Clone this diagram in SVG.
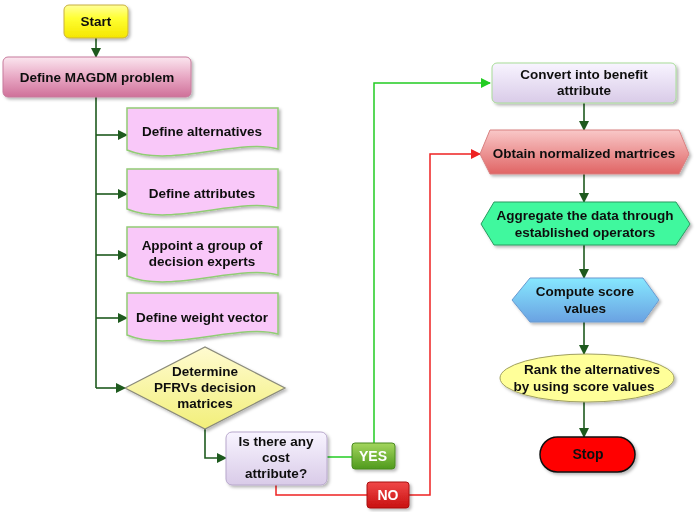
<svg xmlns="http://www.w3.org/2000/svg" width="696" height="512" viewBox="0 0 696 512">
<defs>
<filter id="sh" x="-10%" y="-10%" width="130%" height="140%"><feDropShadow dx="2" dy="2" stdDeviation="1.5" flood-color="#000" flood-opacity="0.28"/></filter>
<linearGradient id="gStart" x1="0" y1="0" x2="0" y2="1"><stop offset="0" stop-color="#ffff99"/><stop offset="0.4" stop-color="#ffff33"/><stop offset="1" stop-color="#f5e600"/></linearGradient>
<linearGradient id="gPink" x1="0" y1="0" x2="0" y2="1"><stop offset="0" stop-color="#fbe6ef"/><stop offset="0.5" stop-color="#e8a8c4"/><stop offset="1" stop-color="#cf7099"/></linearGradient>
<linearGradient id="gDia" x1="0" y1="0" x2="0" y2="1"><stop offset="0" stop-color="#fffbd0"/><stop offset="1" stop-color="#f2ef7a"/></linearGradient>
<linearGradient id="gLav" x1="0" y1="0" x2="0" y2="1"><stop offset="0" stop-color="#f8f4ff"/><stop offset="1" stop-color="#d9cbe8"/></linearGradient>
<linearGradient id="gYes" x1="0" y1="0" x2="0" y2="1"><stop offset="0" stop-color="#a4d65e"/><stop offset="1" stop-color="#4f9a1c"/></linearGradient>
<linearGradient id="gNo" x1="0" y1="0" x2="0" y2="1"><stop offset="0" stop-color="#f04848"/><stop offset="1" stop-color="#c81010"/></linearGradient>
<linearGradient id="gRed" x1="0" y1="0" x2="0" y2="1"><stop offset="0" stop-color="#f9c8c8"/><stop offset="1" stop-color="#e06464"/></linearGradient>
<linearGradient id="gBlue" x1="0" y1="0" x2="0" y2="1"><stop offset="0" stop-color="#86e8ff"/><stop offset="1" stop-color="#6aa2e2"/></linearGradient>
<marker id="ad" viewBox="0 0 10 10" refX="9" refY="5" markerWidth="10" markerHeight="10" markerUnits="userSpaceOnUse" orient="auto"><path d="M0,0 L10,5 L0,10 Z" fill="#1e5a1e"/></marker>
<marker id="ag" viewBox="0 0 10 10" refX="9" refY="5" markerWidth="10" markerHeight="10" markerUnits="userSpaceOnUse" orient="auto"><path d="M0,0 L10,5 L0,10 Z" fill="#22cc22"/></marker>
<marker id="ar" viewBox="0 0 10 10" refX="9" refY="5" markerWidth="10" markerHeight="10" markerUnits="userSpaceOnUse" orient="auto"><path d="M0,0 L10,5 L0,10 Z" fill="#ee2222"/></marker>
</defs>
<style>
text{font-family:"Liberation Sans",Arial,sans-serif;font-weight:bold;font-size:13.5px;fill:#111;text-anchor:middle}
.w{fill:#fff;font-size:14px}
.doc{fill:#f9c8f9;stroke:#92cc76;stroke-width:1.5}
.c{fill:none;stroke:#1e5a1e;stroke-width:1.6;marker-end:url(#ad)}
.cl{fill:none;stroke:#1e5a1e;stroke-width:1.6}
.cg{fill:none;stroke:#22cc22;stroke-width:1.5}
.cr{fill:none;stroke:#ee2222;stroke-width:1.5}
.n{filter:url(#sh)}
</style>
<g id="connectors">
<path class="c" d="M96,38 V57"/>
<path class="cl" d="M96,97 V388"/>
<path class="c" d="M96,135 H127"/>
<path class="c" d="M96,194 H127"/>
<path class="c" d="M96,255 H127"/>
<path class="c" d="M96,318 H127"/>
<path class="c" d="M96,388 H125"/>
<path class="c" d="M205,429 V458 H226"/>
<path class="cg" d="M327,457 H352"/>
<path class="cg" d="M374,443 V83 H490" style="marker-end:url(#ag)"/>
<path class="cr" d="M276,485 V495 H367"/>
<path class="cr" d="M409,495 H430 V154 H480" style="marker-end:url(#ar)"/>
<path class="c" d="M584,103 V130"/>
<path class="c" d="M584,174 V202"/>
<path class="c" d="M584,245 V278"/>
<path class="c" d="M584,322 V354"/>
<path class="c" d="M584,402 V437"/>
</g>
<g id="start" class="n"><rect x="64" y="5" width="64" height="33" rx="5" fill="url(#gStart)" stroke="#c8b040"/><text x="96" y="26">Start</text></g>
<g id="define-magdm" class="n"><rect x="3" y="57" width="188" height="40" rx="5" fill="url(#gPink)" stroke="#c77a9c"/><text x="97" y="82">Define MAGDM problem</text></g>
<g id="define-alternatives" class="n"><path class="doc" d="M127,108 H278 V149 C240,138 170,168 127,150 Z"/><text x="202" y="136">Define alternatives</text></g>
<g id="define-attributes" class="n"><path class="doc" d="M127,169 H278 V208 C240,197 170,227 127,209 Z"/><text x="202" y="198">Define attributes</text></g>
<g id="appoint-group" class="n"><path class="doc" d="M127,227 H278 V275 C240,264 170,294 127,276 Z"/><text x="202" y="250">Appoint a group of</text><text x="202" y="266">decision experts</text></g>
<g id="define-weight" class="n"><path class="doc" d="M127,293 H278 V334 C240,323 170,353 127,335 Z"/><text x="202" y="322">Define weight vector</text></g>
<g id="determine-matrices" class="n"><path d="M125,388 L205,347 L285,388 L205,429 Z" fill="url(#gDia)" stroke="#8a8a7a" stroke-width="1.2"/><text x="205" y="376">Determine</text><text x="205" y="392">PFRVs decision</text><text x="205" y="408">matrices</text></g>
<g id="cost-question" class="n"><rect x="226" y="432" width="101" height="53" rx="6" fill="url(#gLav)" stroke="#b8a8cc"/><text x="276" y="446">Is there any</text><text x="276" y="462">cost</text><text x="276" y="478">attribute?</text></g>
<g id="yes" class="n"><rect x="352" y="443" width="43" height="26" rx="3" fill="url(#gYes)" stroke="#4a8a20"/><text class="w" x="373" y="461">YES</text></g>
<g id="no" class="n"><rect x="367" y="482" width="42" height="26" rx="3" fill="url(#gNo)" stroke="#aa1010"/><text class="w" x="388" y="500">NO</text></g>
<g id="convert-benefit" class="n"><rect x="492" y="63" width="184" height="40" rx="5" fill="url(#gLav)" stroke="#a8dc98"/><text x="584" y="79">Convert into benefit</text><text x="584" y="95">attribute</text></g>
<g id="obtain-normalized" class="n"><path d="M480,154 L490,130 L679,130 L689,154 L679,174 L490,174 Z" fill="url(#gRed)" stroke="#d88080"/><text x="584" y="158">Obtain normalized martrices</text></g>
<g id="aggregate" class="n"><path d="M481,224 L494,202 L676,202 L690,224 L676,245 L494,245 Z" fill="#3ff89e" stroke="#2a9a60"/><text x="585" y="220">Aggregate the data through</text><text x="585" y="237">established operators</text></g>
<g id="compute-score" class="n"><path d="M512,300 L530,278 L643,278 L659,300 L643,322 L530,322 Z" fill="url(#gBlue)" stroke="#6a9ad0"/><text x="585" y="296">Compute score</text><text x="585" y="313">values</text></g>
<g id="rank" class="n"><ellipse cx="587" cy="378" rx="87" ry="24" fill="#ffff99" stroke="#a0a060"/><text x="592" y="374">Rank the alternatives</text><text x="584" y="391">by using score values</text></g>
<g id="stop" class="n"><rect x="540" y="437" width="95" height="35" rx="17.5" fill="#ff0000" stroke="#111" stroke-width="1.5"/><text x="588" y="459" style="font-size:14px">Stop</text></g>
</svg>
